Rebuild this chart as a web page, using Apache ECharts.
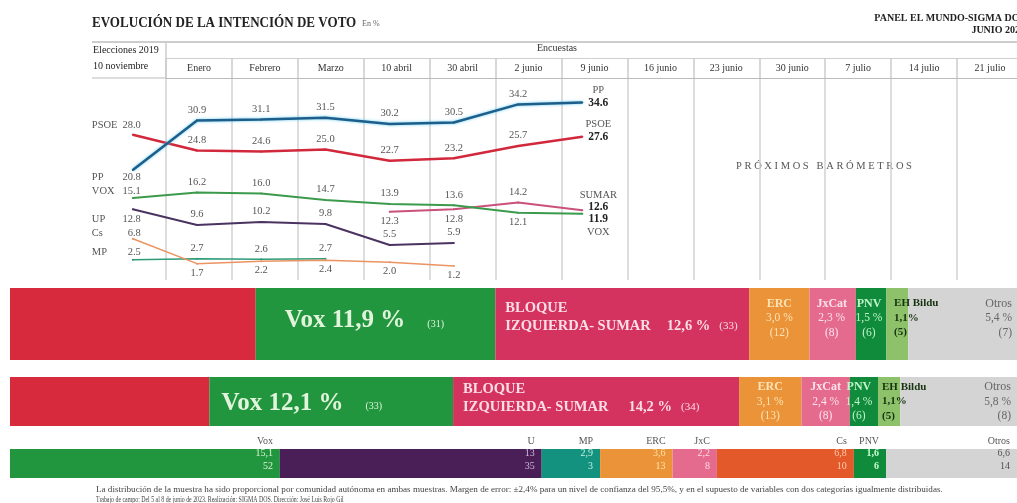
<!DOCTYPE html>
<html>
<head>
<meta charset="utf-8">
<script src="https://cdn.jsdelivr.net/npm/echarts@6/dist/echarts.min.js"></script>
<style>
html, body { margin: 0; padding: 0; background: #fff; }
#chart { width: 1017px; height: 503px; }
</style>
</head>
<body>
<div id="chart"></div>
<script>
// columnas de encuestas
var surveyDates = ['Enero', 'Febrero', 'Marzo', '10 abril', '30 abril', '2 junio', '9 junio',
  '16 junio', '23 junio', '30 junio', '7 julio', '14 julio', '21 julio'];
var lineCats = ['10 nov. 2019'].concat(surveyDates);

// evolución (%), primer valor = elecciones 2019
var ppLine = [20.8, 30.9, 31.1, 31.5, 30.2, 30.5, 34.2, 34.6];
var psoeLine = [28.0, 24.8, 24.6, 25.0, 22.7, 23.2, 25.7, 27.6];
var voxLine = [15.1, 16.2, 16.0, 14.7, 13.9, 13.6, 12.1, 11.9];
var upLine = [12.8, 9.6, 10.2, 9.8, 5.5, 5.9];
var sumarLine = [null, null, null, null, 12.3, 12.8, 14.2, 12.6];
var csLine = [6.8, 1.7, 2.2, 2.4, 2.0, 1.2];
var mpLine = [2.5, 2.7, 2.6, 2.7];

// barras: 9 junio, 2 junio, elecciones 2019
var pollParties = ['PP', 'PSOE', 'Vox', 'Bloque', 'ERC', 'JxCat', 'PNV', 'EH Bildu', 'Otros'];
var jun9Votes = [34.6, 27.6, 11.9, 12.6, 3.0, 2.3, 1.5, 1.1, 5.4];
var jun9Seats = [null, null, 31, 33, 12, 8, 6, 5, 7];
var jun2Votes = [34.2, 25.7, 12.1, 14.2, 3.1, 2.4, 1.4, 1.1, 5.8];
var jun2Seats = [null, null, 33, 34, 13, 8, 6, 5, 8];
var elecParties = ['PP', 'PSOE', 'Vox', 'U', 'MP', 'ERC', 'JxC', 'Cs', 'PNV', 'Otros'];
var elecVotes = [20.8, 28.0, 15.1, 13, 2.9, 3.6, 2.2, 6.8, 1.6, 6.6];
var elecSeats = [null, null, 52, 35, 3, 13, 8, 10, 6, 14];

var FONT = '"Liberation Serif", "DejaVu Serif", serif';

var partyColors = {
  PP: '#1d7fc4', PSOE: '#d72b3d', Vox: '#21963f', Bloque: '#d4325f', ERC: '#ea9338',
  JxCat: '#e46b8d', JxC: '#e46b8d', PNV: '#108a3b', 'EH Bildu': '#8dc26b', Otros: '#d4d4d4',
  U: '#4a1f57', MP: '#13937f', Cs: '#e3592a'
};
var elecTint = {
  Vox: '#dcf2d2', U: '#cdbadb', MP: '#c4f0e4', ERC: '#ffe2a6', JxC: '#ffd8e5',
  Cs: '#ffcaa8', PNV: '#c9ffd2', Otros: '#555'
};

function fmt1(v) { return v.toFixed(1).replace('.', ','); }

// --- líneas ---
function lineSeries(name, vals, color, width, below, leftDy, endLabel, extra) {
  var last = vals.length - 1;
  return {
    type: 'line', name: name, xAxisIndex: 1, yAxisIndex: 1,
    symbol: 'circle', symbolSize: 2, showSymbol: true, connectNulls: false,
    lineStyle: Object.assign({ color: color, width: width }, extra || {}),
    itemStyle: { color: color },
    label: {
      show: true, position: 'top', distance: 4, fontSize: 10.5, color: '#555', fontFamily: FONT,
      formatter: function (p) { return p.value.toFixed(1); }
    },
    data: vals.map(function (v, i) {
      if (v == null) return '-';
      var item = { value: v };
      if (i === 0) {
        item.label = {
          position: [-40, leftDy + 1], align: 'left', verticalAlign: 'middle',
          formatter: '{n|' + (name === 'Vox' ? 'VOX' : name) + '}{v|' + v.toFixed(1) + '}',
          rich: {
            n: { width: 32, fontSize: 10.5, color: '#555', fontFamily: FONT },
            v: { width: 17, align: 'right', fontSize: 10.5, color: '#555', fontFamily: FONT }
          }
        };
      } else if (i === last && endLabel) {
        var t = endLabel.nameFirst
          ? '{n|' + endLabel.text + '}\n{b|' + v.toFixed(1) + '}'
          : '{b|' + v.toFixed(1) + '}\n{n|' + endLabel.text + '}';
        item.label = {
          position: [17, endLabel.dy + 1], align: 'center', verticalAlign: 'middle',
          formatter: t, lineHeight: 12.5,
          rich: {
            n: { fontSize: 10.5, color: '#555', fontFamily: FONT, lineHeight: 12.5 },
            b: { fontSize: 11.5, fontWeight: 'bold', color: '#222', fontFamily: FONT, lineHeight: 12.5 }
          }
        };
      } else if (below.indexOf(i) >= 0) {
        item.label = { position: 'bottom', distance: 3 };
      }
      return item;
    })
  };
}

var lineSeriesList = [
  lineSeries('MP', mpLine, '#2d9a78', 1.5, [], -8, null),
  lineSeries('Cs', csLine, '#ea9462', 1.5, [1, 2, 3, 4, 5], -5, null),
  lineSeries('UP', upLine, '#4b3361', 2, [], 10, null),
  lineSeries('SUMAR', sumarLine, '#c9517c', 2, [4, 5], 0, { text: 'SUMAR', nameFirst: true, dy: -9 }),
  lineSeries('Vox', voxLine, '#3c9a4c', 2, [6], -7, { text: 'VOX', nameFirst: false, dy: 12 }),
  lineSeries('PSOE', psoeLine, '#d2283c', 2.5, [], -10, { text: 'PSOE', nameFirst: true, dy: -6 }),
  lineSeries('PP', ppLine, '#1d5f8a', 2.5, [], 7, { text: 'PP', nameFirst: true, dy: -6 },
    { shadowColor: 'rgba(90,200,240,0.9)', shadowBlur: 3 })
];

// --- barras ---
var jun9Layout = {
  Vox: { position: 'insideLeft', distance: 29, offset: [0, -3] },
  Bloque: { position: 'insideLeft', distance: 10, offset: [0, -7], gap: 16 },
  ERC: { position: 'inside', offset: [0, -6] },
  JxCat: { position: 'inside', offset: [-1, -6] },
  PNV: { position: 'inside', offset: [-2, -6] },
  'EH Bildu': { position: 'insideLeft', distance: 8, offset: [0, -6] },
  Otros: { position: 'insideRight', distance: 5, offset: [0, -6] }
};
var jun2Layout = {
  Vox: { position: 'insideLeft', distance: 12, offset: [0, 2] },
  Bloque: { position: 'insideLeft', distance: 10, offset: [0, -3], gap: 20 },
  ERC: { position: 'inside', offset: [0, 0] },
  JxCat: { position: 'inside', offset: [0, 0] },
  PNV: { position: 'inside', offset: [-5, 0] },
  'EH Bildu': { position: 'insideLeft', distance: 4, offset: [0, 0] },
  Otros: { position: 'insideRight', distance: 6, offset: [0, 0] }
};

function pollLabel(party, v, s, lay) {
  var l = lay[party];
  if (!l) return { show: false };
  var pct = fmt1(v) + ' %';
  var seats = '(' + s + ')';
  var lab = { show: true, position: l.position, distance: l.distance || 5, offset: l.offset, fontFamily: FONT };
  if (party === 'Vox') {
    lab.formatter = '{big|Vox ' + pct + '}{s|' + seats + '}';
    lab.rich = {
      big: { fontSize: 25, fontWeight: 'bold', color: '#e2f5dc', fontFamily: FONT },
      s: { fontSize: 10, color: '#e2f5dc', fontFamily: FONT, padding: [6, 0, 0, 22] }
    };
  } else if (party === 'Bloque') {
    lab.formatter = '{b|BLOQUE}\n{b|IZQUIERDA- SUMAR}{p|' + pct + '}{s|' + seats + '}';
    lab.lineHeight = 18;
    lab.rich = {
      b: { fontSize: 14.5, fontWeight: 'bold', color: '#fbdde6', fontFamily: FONT, lineHeight: 18 },
      p: { fontSize: 14.5, fontWeight: 'bold', color: '#fbdde6', fontFamily: FONT, lineHeight: 18, padding: [0, 0, 0, l.gap] },
      s: { fontSize: 11, color: '#fbdde6', fontFamily: FONT, lineHeight: 18, padding: [0, 0, 0, 9] }
    };
  } else if (party === 'EH Bildu') {
    lab.formatter = '{b|EH Bildu}\n{b|' + fmt1(v) + '%}\n{b|' + seats + '}';
    lab.lineHeight = 14.5;
    lab.rich = { b: { fontSize: 11, fontWeight: 'bold', color: '#17320f', fontFamily: FONT, lineHeight: 14.5 } };
  } else {
    var tint = { ERC: '#fde3b5', JxCat: '#fde2ec', PNV: '#bff5c9', Otros: '#666' }[party];
    lab.formatter = '{n|' + party + '}\n{v|' + pct + '}\n{v|' + seats + '}';
    lab.lineHeight = 14.5;
    lab.rich = {
      n: { fontSize: 12, fontWeight: party === 'Otros' ? 'normal' : 'bold', color: tint, fontFamily: FONT, lineHeight: 14.5 },
      v: { fontSize: 11.5, color: tint, fontFamily: FONT, lineHeight: 14.5 }
    };
  }
  return lab;
}

function elecLabel(party, v, s) {
  if (party === 'PP' || party === 'PSOE') return { show: false };
  var num = Number.isInteger(v) ? String(v) : fmt1(v);
  var tint = elecTint[party];
  return {
    show: true, position: 'insideRight', distance: 7, offset: [0, -10], fontFamily: FONT,
    formatter: '{n|' + party + '}\n{v|' + num + '}\n{v|' + s + '}', lineHeight: 12.5,
    rich: {
      n: { fontSize: 10, color: '#555', fontFamily: FONT, lineHeight: 12.5 },
      v: { fontSize: 10, color: tint, fontFamily: FONT, lineHeight: 12.5, fontWeight: party === 'PNV' ? 'bold' : 'normal' }
    }
  };
}

function barRow(row, parties, votes, seats, labelFn) {
  return parties.map(function (p, i) {
    return {
      type: 'bar', name: p + row, stack: 'row' + row, xAxisIndex: 2 + row, yAxisIndex: 2 + row,
      barWidth: '100%', silent: true, clip: true,
      itemStyle: { color: partyColors[p] },
      label: labelFn(p, votes[i], seats[i]),
      data: [votes[i]]
    };
  });
}

var barSeries = []
  .concat(barRow(0, pollParties, jun9Votes, jun9Seats, function (p, v, s) { return pollLabel(p, v, s, jun9Layout); }))
  .concat(barRow(1, pollParties, jun2Votes, jun2Seats, function (p, v, s) { return pollLabel(p, v, s, jun2Layout); }))
  .concat(barRow(2, elecParties, elecVotes, elecSeats, elecLabel));

function hLine(x1, x2, y, color, w) {
  return { type: 'line', silent: true, shape: { x1: x1, y1: y, x2: x2, y2: y }, style: { stroke: color, lineWidth: w } };
}
function txt(x, y, text, font, color, align, extra) {
  return Object.assign({
    type: 'text', x: x, y: y, silent: true,
    style: { text: text, font: font, fill: color, textAlign: align || 'left', align: align || 'left',
      textVerticalAlign: 'middle', verticalAlign: 'middle' }
  }, extra || {});
}

var chart = echarts.init(document.getElementById('chart'));
var option = {
  animation: false,
  backgroundColor: '#fff',
  textStyle: { fontFamily: FONT },
  grid: [
    { left: 166, top: 78, width: 857, height: 202, outerBoundsMode: 'none', containLabel: false },
    { left: 100.7, top: 100.5, width: 899, height: 171.5, outerBoundsMode: 'none', containLabel: false },
    { left: 10, top: 288, width: 1007, height: 72, outerBoundsMode: 'none', containLabel: false },
    { left: 10, top: 377, width: 1007, height: 49, outerBoundsMode: 'none', containLabel: false },
    { left: 10, top: 449, width: 1007, height: 29, outerBoundsMode: 'none', containLabel: false }
  ],
  xAxis: [
    {
      gridIndex: 0, type: 'category', data: surveyDates, position: 'top', boundaryGap: true,
      axisLine: { show: true, onZero: false, lineStyle: { color: '#bbb', width: 1 } },
      axisTick: { show: true, interval: 0, length: 20, lineStyle: { color: '#ccc', width: 1.5 } },
      axisLabel: { interval: 0, margin: 5, fontSize: 10, color: '#333', fontFamily: FONT },
      splitLine: { show: true, interval: 0, lineStyle: { color: '#d2d2d2', width: 1.5 } }
    },
    { gridIndex: 1, type: 'category', data: lineCats, boundaryGap: true, show: false },
    { gridIndex: 2, type: 'value', min: 50, max: 100, show: false },
    { gridIndex: 3, type: 'value', min: 50, max: 100, show: false },
    { gridIndex: 4, type: 'value', min: 50.5, max: 100.5, show: false }
  ],
  yAxis: [
    { gridIndex: 0, type: 'value', min: 0, max: 1, show: false },
    { gridIndex: 1, type: 'value', min: 0, max: 35, show: false },
    { gridIndex: 2, type: 'category', data: ['9 junio'], show: false },
    { gridIndex: 3, type: 'category', data: ['2 junio'], show: false },
    { gridIndex: 4, type: 'category', data: ['Elecciones 2019'], show: false }
  ],
  graphic: [
    txt(92, 23, 'EVOLUCIÓN DE LA INTENCIÓN DE VOTO', 'bold 15px ' + FONT, '#222', 'left', { scaleX: 0.87 }),
    txt(362, 24, 'En %', '8px ' + FONT, '#666'),
    txt(1025, 18, 'PANEL EL MUNDO-SIGMA DOS', 'bold 10px ' + FONT, '#222', 'right'),
    txt(1025, 30, 'JUNIO 2023', 'bold 10px ' + FONT, '#222', 'right'),
    hLine(92, 1017, 42, '#bdbdbd', 1.5),
    hLine(166, 1017, 58.5, '#cfcfcf', 1),
    hLine(92, 166, 78, '#bbb', 1),
    { type: 'line', silent: true, shape: { x1: 166, y1: 42, x2: 166, y2: 78 }, style: { stroke: '#ccc', lineWidth: 1.5 } },
    txt(93, 50, 'Elecciones 2019', '10px ' + FONT, '#222'),
    txt(93, 66, '10 noviembre', '10px ' + FONT, '#222'),
    txt(557, 48, 'Encuestas', '10px ' + FONT, '#333', 'center'),
    txt(824, 166, 'P R Ó X I M O S   B A R Ó M E T R O S', '10.5px ' + FONT, '#555', 'center'),
    txt(96, 490, 'La distribución de la muestra ha sido proporcional por comunidad autónoma en ambas muestras. Margen de error: ±2,4% para un nivel de confianza del 95,5%, y en el supuesto de variables con dos categorías igualmente distribuidas.', '9.1px ' + FONT, '#444'),
    txt(96, 500, 'Trabajo de campo: Del 5 al 8 de junio de 2023. Realización: SIGMA DOS. Dirección: José Luis Rojo Gil', '8.5px ' + FONT, '#444', 'left', { scaleX: 0.69 })
  ],
  series: [
    { type: 'line', xAxisIndex: 0, yAxisIndex: 0, data: [], silent: true }
  ].concat(lineSeriesList).concat(barSeries)
};
chart.setOption(option);
</script>
</body>
</html>
